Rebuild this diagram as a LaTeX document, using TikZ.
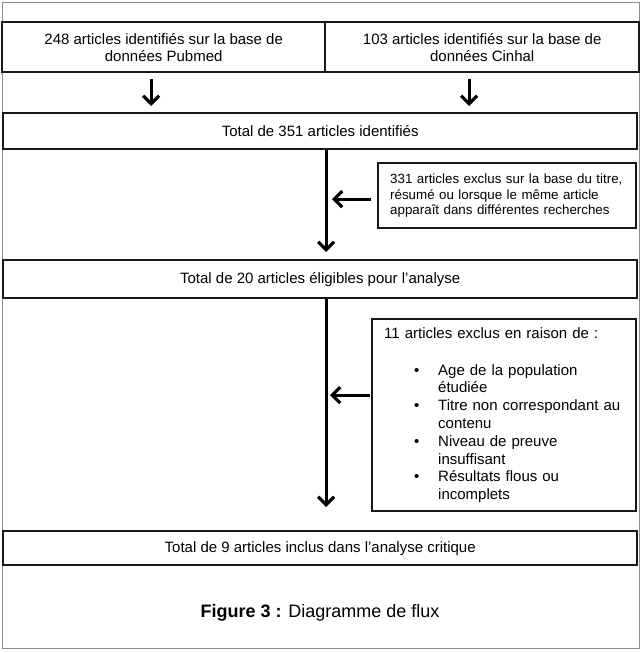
\documentclass[tikz,border=0pt]{standalone}
\usepackage{fontspec}
\setmainfont{Liberation Sans}
\usetikzlibrary{arrows.meta}
\begin{document}
\begin{tikzpicture}[x=1pt,y=-1pt,
  box/.style={draw=black!90, line width=2.4pt, rectangle, inner sep=0pt, align=center,
              font=\fontsize{15}{17.3}\selectfont},
  arr/.style={line width=3.2pt, -{Straight Barb[length=8pt,width=16pt]}},
  frame/.style={draw=black!45, line width=1pt},
]
\useasboundingbox (0,0) rectangle (641,653);
\draw[frame] (2,2) rectangle (639,648);

\node[box, minimum width=323pt, minimum height=50pt, anchor=north west] (pub) at (1,21)
  {248 articles identifiés sur la base de\\données Pubmed};
\node[box, minimum width=314pt, minimum height=50pt, anchor=north west] (cin) at (324,21)
  {103 articles identifiés sur la base de\\données Cinhal};

\node[box, minimum width=634pt, minimum height=36pt, anchor=north west] (tot1) at (2,112)
  {Total de 351 articles identifiés};

\node[box, minimum width=258pt, minimum height=65pt, anchor=north west, align=left,
      text width=234pt, inner xsep=12pt, font=\fontsize{13.35}{15.4}\selectfont] (ex1) at (377,162)
  {331 articles exclus sur la base du titre,\\résumé ou lorsque le même article\\apparaît dans différentes recherches};

\node[box, minimum width=634pt, minimum height=38pt, anchor=north west] (tot20) at (2,259)
  {Total de 20 articles éligibles pour l’analyse};

\node[box, minimum width=264pt, minimum height=192pt, anchor=north west, align=left,
      text width=240pt, inner xsep=12pt, font=\fontsize{15}{17.8}\selectfont] (ex2) at (371,318)
  {11 articles exclus en raison de :\\[19pt]
   \hspace*{30pt}\makebox[24pt][l]{\textbullet}Age de la population\\
   \hspace*{54pt}étudiée\\
   \hspace*{30pt}\makebox[24pt][l]{\textbullet}Titre non correspondant au\\
   \hspace*{54pt}contenu\\
   \hspace*{30pt}\makebox[24pt][l]{\textbullet}Niveau de preuve\\
   \hspace*{54pt}insuffisant\\
   \hspace*{30pt}\makebox[24pt][l]{\textbullet}Résultats flous ou\\
   \hspace*{54pt}incomplets};

\node[box, minimum width=634pt, minimum height=34pt, anchor=north west] (tot9) at (2,530)
  {Total de 9 articles inclus dans l’analyse critique};

\node[font=\fontsize{18}{21}\selectfont, inner sep=0pt] (cap) at (320,613)
  {\textbf{Figure 3 :} Diagramme de flux};

\draw[arr] ([xshift=-12.5pt,yshift=-6pt]pub.south) -- ([xshift=-169pt,yshift=6pt]tot1.north);
\draw[arr] ([xshift=-13pt,yshift=-6pt]cin.south) -- ([xshift=149pt,yshift=6pt]tot1.north);
\draw[arr] ([xshift=6pt]tot1.south) -- ([xshift=6pt,yshift=7pt]tot20.north);
\draw[arr] ([xshift=-6pt,yshift=-3.5pt]ex1.west) -- ([xshift=-45pt,yshift=-3.5pt]ex1.west);
\draw[arr] ([xshift=6pt]tot20.south) -- ([xshift=6pt,yshift=23pt]tot9.north);
\draw[arr] ([xshift=-1pt,yshift=20pt]ex2.west) -- ([xshift=-41pt,yshift=20pt]ex2.west);
\end{tikzpicture}
\end{document}
